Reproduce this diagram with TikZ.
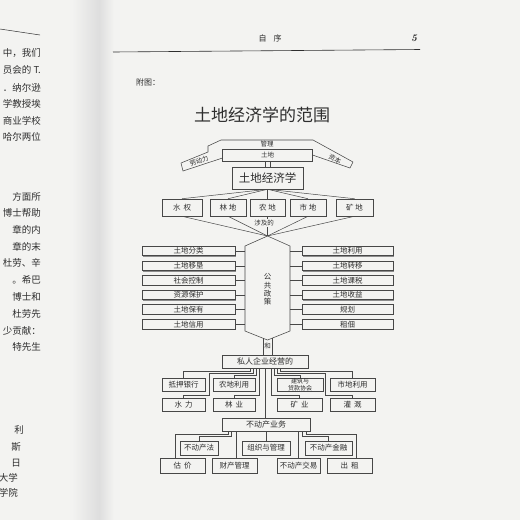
\documentclass[tikz,border=0pt]{standalone}
\usepackage{fontspec}
\newfontfamily\cjk{Noto Sans CJK SC}
\usetikzlibrary{calc,shadows}
\definecolor{pagebg}{HTML}{F3F3F1}
\definecolor{ink}{HTML}{2E2E2E}
\definecolor{lineg}{HTML}{474747}
\begin{document}
\begin{tikzpicture}[x=1pt,y=-1pt,
  bx/.style={draw=lineg, line width=0.55pt, fill=pagebg, inner sep=0pt, text=ink,
    font=\cjk\fontsize{7.5}{8}\selectfont,
    drop shadow={shadow xshift=0.9pt, shadow yshift=-0.9pt, fill=black!45, opacity=1}},
  sm/.style={font=\cjk\fontsize{6.5}{7}\selectfont, text=ink, inner sep=0pt},
  conn/.style={draw=lineg, line width=0.5pt},
  lp/.style={anchor=east, font=\cjk\fontsize{9.5}{10}\selectfont, text=ink, inner sep=0pt},
]
\useasboundingbox (0,0) rectangle (520,520);
\fill[pagebg] (0,0) rectangle (520,520);
\shade[left color=pagebg, right color=black!13] (72,0) rectangle (99,520);
\shade[left color=black!13, right color=pagebg] (99,0) rectangle (114,520);

% left page fragments
\draw[ink, line width=0.5pt] (0,29) -- (40,35);
\node[lp] (p1) at (41,53) {中，我们};
\node[lp] (p2) at (41,70) {员会的 T.};
\node[lp] (p3) at (41,88) {．纳尔逊};
\node[lp] (p4) at (41,104) {学教授埃};
\node[lp] (p5) at (41,121) {商业学校};
\node[lp] (p6) at (41,137) {哈尔两位};
\node[lp] (p7) at (41,197) {方面所};
\node[lp] (p8) at (41,213) {博士帮助};
\node[lp] (p9) at (41,230) {章的内};
\node[lp] (p10) at (41,247) {章的末};
\node[lp] (p11) at (41,263) {杜劳、辛};
\node[lp] (p12) at (41,280) {。希巴};
\node[lp] (p13) at (41,297) {博士和};
\node[lp] (p14) at (41,314) {杜劳先};
\node[lp] (p15) at (41,331) {少贡献：};
\node[lp] (p16) at (41,347) {特先生};
\node[lp] (p17) at (24,430) {利};
\node[lp] (p18) at (21,447) {斯};
\node[lp] (p19) at (21,463) {日};
\node[lp] (p20) at (18,478) {大学};
\node[lp] (p21) at (18,493) {学院};

% header
\draw[ink, line width=0.6pt] (113,52) -- (420,49.5);
\node[font=\cjk\fontsize{8}{8}\selectfont, text=ink] (hdr) at (270,38) {自\hspace{7pt}序};
\node[font=\fontsize{10}{10}\selectfont\bfseries\itshape, text=ink] (pg) at (414,38) {5};
\node[font=\cjk\fontsize{8}{8}\selectfont, text=ink, anchor=west, inner sep=0pt] (fu) at (136,82) {附图：};
\node[font=\cjk\fontsize{17}{17}\selectfont, text=ink] (title) at (262,115) {土地经济学的范围};

% roof
\filldraw[draw=lineg, fill=pagebg, line width=0.55pt, line join=round]
  (183,171) -- (181,163) -- (208,152) -- (208,146) -- (221,140) -- (313,140)
  -- (353,162) -- (350,168) -- (312.5,155) -- (312.5,161) -- (222.5,161) -- (222.5,158) -- cycle;
\node[draw=lineg, line width=0.55pt, fill=pagebg, minimum width=90pt, minimum height=12pt, inner sep=0pt] (tudi) at (267.5,155) {};
\node[sm] (tudit) at (tudi) {土地};
\node[sm] (guanli) at (267,144.5) {管理};
\node[sm, rotate=21] (ldl) at (199,161) {劳动力};
\node[sm, rotate=-25] (ziben) at (335,159) {资本};

\node[bx, minimum width=71pt, minimum height=22pt, font=\cjk\fontsize{11.5}{12}\selectfont] (land) at (267.5,178) {土地经济学};
\draw[conn] ([xshift=-2.5pt]tudi.south) -- ([xshift=-2.5pt]land.north);
\draw[conn] ([xshift=2.5pt]tudi.south) -- ([xshift=2.5pt]land.north);

% five land types
\node[bx, minimum width=40pt, minimum height=17pt] (shuiquan) at (182,207.5) {水\hspace{3pt}权};
\node[bx, minimum width=36pt, minimum height=17pt] (lindi) at (228,207.5) {林\hspace{2pt}地};
\node[bx, minimum width=35pt, minimum height=17pt] (nongdi) at (267.5,207.5) {农\hspace{2pt}地};
\node[bx, minimum width=36pt, minimum height=17pt] (shidi) at (308,207.5) {市\hspace{2pt}地};
\node[bx, minimum width=37pt, minimum height=17pt] (kuangdi) at (354.5,207.5) {矿\hspace{2pt}地};
\foreach \n in {shuiquan,lindi,nongdi,shidi,kuangdi}{\draw[conn] (land.south) -- (\n.north);}

% hexagon
\coordinate (h1) at (267.5,236);
\coordinate (h2) at (290,246);
\coordinate (h3) at (290,331);
\coordinate (h4) at (267.5,340);
\coordinate (h5) at (245,331);
\coordinate (h6) at (245,246);
\foreach \n in {shuiquan,lindi,nongdi,shidi,kuangdi}{\draw[conn] (\n.south) -- (h1);}
\node[sm, fill=pagebg, inner sep=0.5pt] (sheji) at (264,223) {涉及的};
\filldraw[draw=lineg, fill=pagebg, line width=0.55pt] (h1) -- (h2) -- (h3) -- (h4) -- (h5) -- (h6) -- cycle;
\node[font=\cjk\fontsize{7.5}{8.3}\selectfont, text=ink, align=center, inner sep=0pt] (ggzc) at (267.5,289.5) {公\\共\\政\\策};

% side boxes
\foreach \t/\y [count=\i] in {土地分类/251,土地移垦/266,社会控制/280.5,资源保护/295,土地保有/309.5,土地信用/324.5}{
  \node[bx, minimum width=93pt, minimum height=9.5pt] (L\i) at (188.5,\y) {\t};
  \draw[conn] (L\i.east) -- (L\i.east -| h6);
}
\foreach \t/\y [count=\i] in {土地利用/251,土地转移/266,土地课税/280.5,土地收益/295,规划/309.5,租佃/324.5}{
  \node[bx, minimum width=91pt, minimum height=9.5pt] (R\i) at (347.5,\y) {\t};
  \draw[conn] (R\i.west) -- (R\i.west -| h2);
}

% he
\coordinate (he1) at (263,338.2);
\coordinate (he2) at (272,338.2);
\node[bx, minimum width=86pt, minimum height=13pt, font=\cjk\fontsize{8}{8}\selectfont] (siren) at (265,361.5) {私人企业经营的};
\draw[conn] (he1) -- (he1 |- siren.north);
\draw[conn] (he2) -- (he2 |- siren.north);
\node[sm] (he) at (267.5,346.5) {和};

% private enterprise rows
\node[bx, minimum width=43pt, minimum height=13.5pt] (diya) at (183.5,384.75) {抵押银行};
\node[bx, minimum width=42pt, minimum height=13.5pt] (nongdily) at (234,384.75) {农地利用};
\node[bx, minimum width=46pt, minimum height=13.5pt, align=center, font=\cjk\fontsize{6}{6.3}\selectfont] (jianzhu) at (300,384.75) {建筑与\\贷款协会};
\node[bx, minimum width=45pt, minimum height=13.5pt] (shidily) at (352.5,384.75) {市地利用};
\node[bx, minimum width=43pt, minimum height=13pt] (shuili) at (183.5,404.5) {水\hspace{3pt}力};
\node[bx, minimum width=42pt, minimum height=13pt] (linye) at (234,404.5) {林\hspace{3pt}业};
\node[bx, minimum width=45pt, minimum height=13pt] (kuangye) at (299.5,404.5) {矿\hspace{3pt}业};
\node[bx, minimum width=45pt, minimum height=13pt] (guangai) at (352.5,404.5) {灌\hspace{3pt}溉};

\draw[conn] ([xshift=-15pt]siren.south) -- ++(0,3) -| (diya.north);
\draw[conn] ([xshift=-12pt]siren.south) -- ++(0,5) -| ([xshift=4pt]diya.south east) -- ++(0,3) -| (shuili.north);
\draw[conn] ([xshift=-9pt]siren.south) -- ++(0,7) -| (nongdily.north);
\draw[conn] ([xshift=-6pt]siren.south) -- ++(0,26.5) -| (linye.north);
\draw[conn] ([xshift=15pt]siren.south) -- ++(0,3) -| (shidily.north);
\draw[conn] ([xshift=12pt]siren.south) -- ++(0,5) -| ([xshift=-4pt]shidily.south west) -- ++(0,3) -| (guangai.north);
\draw[conn] ([xshift=9pt]siren.south) -- ++(0,7) -| (jianzhu.north);
\draw[conn] ([xshift=6pt]siren.south) -- ++(0,26.5) -| (kuangye.north);

% real estate
\node[bx, minimum width=88pt, minimum height=13.5pt, font=\cjk\fontsize{8}{8}\selectfont] (yewu) at (266,424.75) {不动产业务};
\draw[conn] (siren.south) -- (siren.south |- yewu.north);

\node[bx, minimum width=38pt, minimum height=14pt] (fa) at (199,448) {不动产法};
\node[bx, minimum width=48pt, minimum height=14pt] (zuzhi) at (266,448) {组织与管理};
\node[bx, minimum width=47pt, minimum height=14pt] (jinrong) at (328.5,448) {不动产金融};
\node[bx, minimum width=45pt, minimum height=15pt] (gujia) at (182.5,465.5) {估\hspace{3pt}价};
\node[bx, minimum width=45pt, minimum height=15pt] (caichan) at (234.5,465.5) {财产管理};
\node[bx, minimum width=43pt, minimum height=15pt] (jiaoyi) at (298.5,465.5) {不动产交易};
\node[bx, minimum width=45pt, minimum height=15pt] (chuzu) at (349.5,465.5) {出\hspace{3pt}租};

\draw[conn] ([xshift=-38pt]yewu.south) -- ++(0,2.5) -| ($(gujia.north -| fa.west)+(-4,0)$);
\draw[conn] ([xshift=-35pt]yewu.south) -- ++(0,4.5) -| (fa.north);
\draw[conn] ([xshift=-30pt]yewu.south) -- ++(0,26.5);
\draw[conn] (yewu.south) -- (zuzhi.north);
\draw[conn] ([xshift=32pt]yewu.south) -- ++(0,26.5);
\draw[conn] ([xshift=36pt]yewu.south) -- ++(0,4.5) -| (jinrong.north);
\draw[conn] ([xshift=40pt]yewu.south) -- ++(0,2.5) -| ($(chuzu.north -| jinrong.east)+(4,0)$);
\end{tikzpicture}
\end{document}
